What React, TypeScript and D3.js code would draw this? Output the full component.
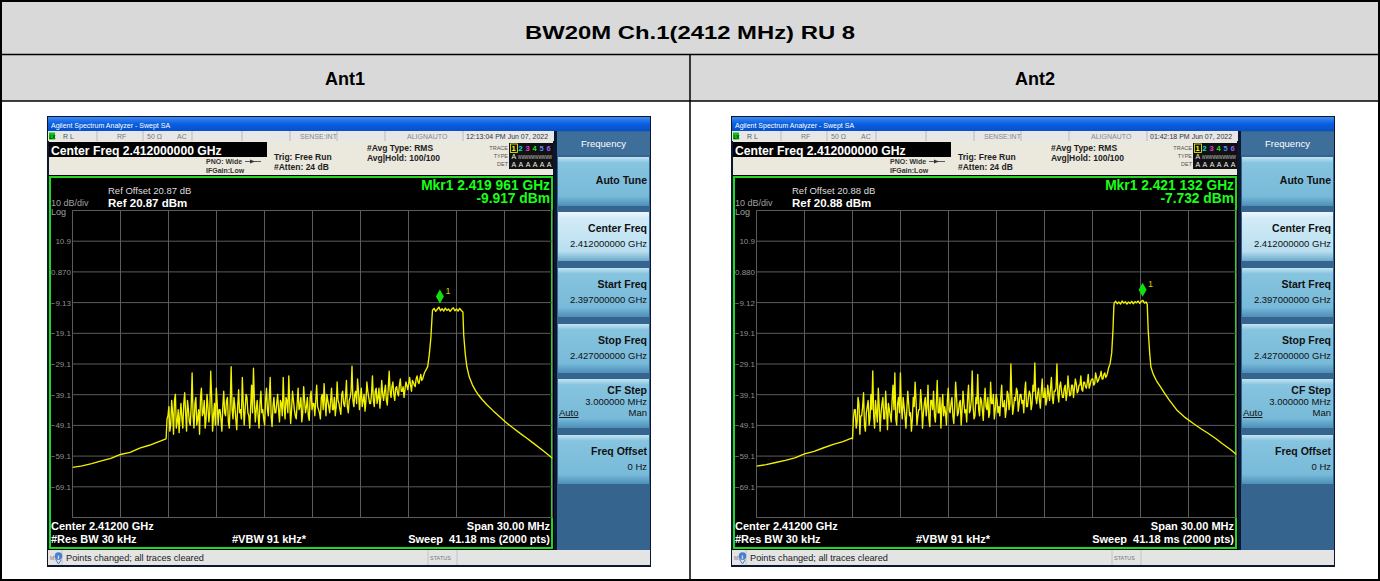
import React from "react";
import * as d3 from "d3";

// ---------------- data ----------------
const tableTitle = "BW20M Ch.1(2412 MHz) RU 8";
const antennaNames = ["Ant1", "Ant2"];
const refLevelsDbm = [20.87, 20.88];
const markerFreqGHz = [2.419961, 2.421132];
const markerLevelDbm = [-9.917, -7.732];
const timeStamps = ["12:13:04 PM Jun 07, 2022", "01:42:18 PM Jun 07, 2022"];
const startFreqGHz = 2.397;
const spanMHz = 30;
const dbPerDiv = 10;
const gridDivs = 10;

const softkeyLabels = ["Auto Tune", "Center Freq", "Start Freq", "Stop Freq", "CF Step", "Freq Offset"];
const softkeyValues = ["", "2.412000000 GHz", "2.397000000 GHz", "2.427000000 GHz", "3.000000 MHz", "0 Hz"];

// trace pieces: [MHz from start, dBm]
const ant1Skirt = [[0, -62.8], [0.6, -62.3], [1.2, -61.6], [1.8, -60.7], [2.4, -59.9], [3, -58.6], [3.6, -57.9], [4.2, -56.5], [4.8, -55.6], [5.4, -54.4], [5.8, -53.6]];
const ant1NoiseRange = [5.85, 22.0];
const ant1Noise = [
  -53.5, -46, -51, -41, -52, -39, -48, -51.5, -42, -50,
  -38.5, -51, -44, -49, -32, -50, -40, -47, -52, -37,
  -45, -50, -39, -48, -31.5, -51, -42, -37, -49, -44,
  -51, -38, -46, -40, -50, -30, -47, -43, -50.5, -37.5,
  -44, -33.5, -49, -39, -45, -50, -36, -30.5, -48, -41,
  -50, -38, -44, -49, -37, -46, -33.5, -49.5, -40, -45,
  -39, -48, -42, -33.5, -47, -41, -33, -48.5, -38, -44,
  -47, -37, -43, -48, -36.5, -45, -40, -47.5, -38, -42,
  -46, -36, -44, -47, -39, -35.5, -46, -41, -45, -37,
  -44, -46, -35, -42, -45.5, -38, -43, -34.5, -45, -40,
  -29.8, -43, -38, -34, -44, -37, -41, -44.5, -35, -40,
  -42, -33, -43, -37, -40, -43.5, -34.5, -41, -36, -42.5,
  -31.5, -40, -35, -41, -36.5, -39.5, -34, -38, -40, -35,
  -37.5, -33.5, -38, -35, -36.5, -33, -35.5, -32.5, -34, -32,
];
// samples lying between the ones above
const ant1NoiseMid = [
  -47, -43, -49, -45, -41, -50, -44, -46, -47, -42,
  -45, -41, -48, -43, -46, -42, -49, -44, -40, -46,
  -41, -47, -43, -45, -40, -46, -49, -42, -44, -47,
  -43, -45, -41, -48, -42, -44, -40, -47, -43, -45,
  -47, -42, -44, -40, -46, -43, -45, -41, -44, -46,
  -42, -45, -47, -41, -44, -40, -46, -43, -45, -42,
  -44, -41, -46, -43, -40, -45, -42, -44, -41, -46,
  -42, -44, -40, -45, -41, -43, -46, -40, -44, -42,
  -41, -43, -45, -40, -44, -42, -39, -43, -41, -44,
  -40, -43, -41, -44, -39, -42, -40, -43, -41, -38,
  -41, -39, -42, -38, -40, -43, -39, -41, -38, -42,
  -39, -41, -38, -42, -37, -40, -39, -38, -41, -37,
  -38, -36.5, -39, -37, -38.5, -36, -38, -36.5, -37.5, -36,
  -35.5, -36, -34.5, -36, -34, -35, -34, -34.5, -33,
];
const ant1Edge = [[22.2, -30], [22.3, -26], [22.4, -20.5], [22.47, -14]];
const ant1Top = [[22.5, -11.6], [22.6, -11.0], [22.7, -12.0], [22.8, -11.3], [22.9, -10.6], [23.0, -11.8], [23.1, -11.1], [23.2, -11.9], [23.3, -10.9], [23.4, -11.7], [23.5, -11.2], [23.6, -12.0], [23.7, -11.3], [23.8, -10.8], [23.9, -11.8], [24.0, -11.2], [24.1, -11.9], [24.2, -11.0], [24.3, -11.7], [24.4, -12.2]];
const ant1Fall = [[24.45, -19.6], [24.55, -26], [24.65, -30.1], [24.8, -33.4], [25.0, -36.0], [25.2, -37.9], [25.4, -39.4], [25.6, -40.7], [25.9, -42.4], [26.3, -44.4], [26.7, -46.3], [27.1, -48.2], [27.6, -50.2], [28, -51.8], [28.4, -53.3], [28.8, -54.9], [29.4, -57.3], [30, -59.8]];

const ant2Skirt = [[0, -62.4], [0.6, -61.9], [1.2, -61.2], [1.8, -60.5], [2.4, -59.7], [3, -58.4], [3.6, -57.6], [4.2, -56.4], [4.8, -55.3], [5.4, -54.4], [5.95, -53.3]];
const ant2NoiseRange = [6.0, 22.0];
const ant2Noise = [
  -53.5, -44, -50, -40, -52, -46, -38.5, -51, -43, -49,
  -39, -31.4, -50, -45, -37, -51, -42, -47, -38, -50.5,
  -44, -48, -36, -32, -49, -40, -32, -47, -43, -50,
  -38, -46, -51, -40, -35, -49, -44, -37.5, -50, -42,
  -46, -36, -49.5, -41, -38, -48, -34.5, -45, -50, -39,
  -43, -49, -37, -45, -40, -48.5, -35, -46, -42, -49,
  -38, -45, -48, -36, -44, -31.4, -47, -40, -32.5, -46,
  -41, -47.5, -37, -44, -46.5, -35, -42, -47, -39, -45,
  -46, -36, -43, -46.5, -38, -44, -29.1, -45.5, -40, -37,
  -44.5, -39, -42, -45, -35, -43, -38, -44, -36, -28.8,
  -42, -37, -43.5, -34, -40, -42.5, -36, -41, -33.5, -42,
  -38, -29.1, -41.5, -35, -40, -37, -41, -33, -39.5, -36,
  -40, -34, -38.5, -36, -33, -38, -35, -37, -32.5, -36,
  -34, -36, -32, -35, -33.5, -31.5, -34, -32, -33, -30.5,
];
const ant2NoiseMid = [
  -47, -44, -48, -42, -46, -43, -49, -45, -41, -47,
  -44, -46, -41, -48, -43, -45, -40, -47, -44, -42,
  -46, -41, -44, -47, -42, -45, -43, -40, -46, -44,
  -42, -45, -47, -43, -41, -46, -44, -42, -45, -40,
  -43, -47, -41, -44, -46, -42, -45, -40, -43, -46,
  -45, -41, -44, -42, -46, -43, -40, -45, -41, -44,
  -42, -44, -40, -45, -41, -43, -46, -42, -44, -40,
  -44, -41, -43, -40, -45, -42, -39, -44, -41, -43,
  -40, -43, -41, -44, -39, -42, -40, -43, -41, -38,
  -42, -39, -41, -38, -43, -40, -39, -42, -38, -40,
  -39, -41, -38, -40, -37, -41, -39, -37, -40, -38,
  -37, -39, -36.5, -38, -40, -36, -38.5, -37, -39, -36,
  -37, -35.5, -38, -36, -37.5, -35, -36.5, -35, -37, -34.5,
  -34, -35.5, -33.5, -34.5, -33, -34, -32.5, -33.5, -32,
];
const ant2Edge = [[22.1, -29], [22.2, -25.5], [22.28, -18], [22.33, -11]];
const ant2Top = [[22.35, -9.3], [22.45, -8.7], [22.55, -9.5], [22.65, -8.9], [22.75, -9.6], [22.85, -8.6], [22.95, -9.3], [23.05, -8.8], [23.15, -9.6], [23.25, -8.9], [23.35, -9.4], [23.45, -8.7], [23.55, -9.5], [23.65, -8.8], [23.75, -9.2], [23.85, -8.6], [23.95, -9.4], [24.05, -8.7], [24.15, -8.4], [24.25, -9.3], [24.35, -8.9], [24.42, -9.6]];
const ant2Fall = [[24.48, -18], [24.58, -26], [24.65, -30.1], [24.8, -32.5], [25.0, -34.6], [25.25, -36.6], [25.5, -38.6], [25.8, -40.9], [26.3, -44.3], [26.8, -46.6], [27.3, -48.5], [27.8, -50.3], [28.2, -51.6], [28.7, -53.4], [29.1, -55], [29.6, -56.9], [30, -58.6]];

const traces = [
  { skirt: ant1Skirt, noise: ant1Noise, mid: ant1NoiseMid, range: ant1NoiseRange, edge: ant1Edge, top: ant1Top, fall: ant1Fall },
  { skirt: ant2Skirt, noise: ant2Noise, mid: ant2NoiseMid, range: ant2NoiseRange, edge: ant2Edge, top: ant2Top, fall: ant2Fall },
];

// ---------------- helpers ----------------
const FONT = "'Liberation Sans', Arial, Helvetica, sans-serif";

function buildTrace(t: any): [number, number][] {
  const n = t.noise.length;
  const step = (t.range[1] - t.range[0]) / (n - 1);
  const noisePts: [number, number][] = [];
  t.noise.forEach((v: number, i: number) => {
    noisePts.push([t.range[0] + step * i, v]);
    if (i < t.mid.length) noisePts.push([t.range[0] + step * (i + 0.5), t.mid[i]]);
  });
  return [...t.skirt, ...noisePts, ...t.edge, ...t.top, ...t.fall];
}

function Analyzer({ idx, dx }: { idx: number; dx: number }) {
  const ref = refLevelsDbm[idx];
  const gx0 = 72.5, gx1 = 552.5, gy0 = 210.5, gy1 = 517.5;
  const x = d3.scaleLinear().domain([0, spanMHz]).range([gx0, gx1]);
  const y = d3.scaleLinear().domain([ref, ref - dbPerDiv * gridDivs]).range([gy0, gy1]);
  const line = d3.line<[number, number]>().x((d) => x(d[0])).y((d) => y(d[1]));
  const pts = buildTrace(traces[idx]);
  const mx = x((markerFreqGHz[idx] - startFreqGHz) * 1000);
  const my = y(markerLevelDbm[idx]);
  const clipId = `clip${idx}`;
  const gradId = `tb${idx}`;
  const btnId = `btn${idx}`;
  const btnHiId = `btnh${idx}`;
  const fmt = d3.format(".3r");
  const btnTops = [157, 212, 268, 324, 379, 435];
  const btnH = 49;
  const statusSeps = [97, 143, 192, 242, 290, 337, 385, 463];
  const traceColors = ["#ffff00", "#00e5e5", "#e040e0", "#30e030", "#5a8cff", "#a060ff"];

  return (
    <g transform={`translate(${dx},0)`} fontFamily={FONT}>
      <defs>
        <clipPath id={clipId}>
          <rect x={gx0} y={gy0 - 30} width={gx1 - gx0} height={gy1 - gy0 + 30} />
        </clipPath>
        <linearGradient id={gradId} x1="0" y1="0" x2="0" y2="1">
          <stop offset="0" stopColor="#3d8bf2" />
          <stop offset="0.5" stopColor="#0a5ee0" />
          <stop offset="1" stopColor="#0650c8" />
        </linearGradient>
        <linearGradient id={btnId} x1="0" y1="0" x2="0" y2="1">
          <stop offset="0" stopColor="#c3e4f2" />
          <stop offset="0.12" stopColor="#86c4df" />
          <stop offset="0.8" stopColor="#78bad9" />
          <stop offset="1" stopColor="#4d8fb8" />
        </linearGradient>
        <linearGradient id={btnHiId} x1="0" y1="0" x2="0" y2="1">
          <stop offset="0" stopColor="#eef8fc" />
          <stop offset="0.12" stopColor="#d2ebf6" />
          <stop offset="0.8" stopColor="#b9dff0" />
          <stop offset="1" stopColor="#6ea9cc" />
        </linearGradient>
      </defs>

      {/* screen frame */}
      <rect x={47} y={116} width={604} height={451} fill="#0b1630" />
      {/* title bar */}
      <rect x={48} y={117} width={602} height={14} fill={`url(#${gradId})`} />
      <text x={51} y={127.5} fontSize={7} fill="#ffffff">Agilent Spectrum Analyzer - Swept SA</text>

      {/* status row */}
      <rect x={48} y={131} width={507} height={10} fill="#e7e7e7" />
      <rect x={49} y={132.5} width={6} height={7} fill="#10c010" />
      <text x={49.5} y={138.5} fontSize={5} fill="#000">LX</text>
      {statusSeps.map((s) => (
        <line key={s} x1={s} x2={s} y1={131} y2={141} stroke="#b0b0b0" strokeWidth={0.8} />
      ))}
      <text x={63} y={139} fontSize={7} fill="#555">R L</text>
      <text x={117} y={139} fontSize={7} fill="#777">RF</text>
      <text x={147} y={139} fontSize={7} fill="#777">50 Ω</text>
      <text x={177} y={139} fontSize={7} fill="#777">AC</text>
      <text x={300} y={139} fontSize={7} fill="#888">SENSE:INT</text>
      <text x={407} y={139} fontSize={7} fill="#888">ALIGNAUTO</text>
      <text x={466} y={139} fontSize={7} fill="#333">{timeStamps[idx]}</text>

      {/* beige info area */}
      <rect x={49} y={141} width={504} height={34} fill="#ebe8dd" />
      <rect x={49} y={142} width={218} height={15} fill="#000" />
      <text x={51} y={154.5} fontSize={12.2} fontWeight="bold" fill="#fff">Center Freq 2.412000000 GHz</text>
      <text x={206} y={164} fontSize={7} fontWeight="bold" fill="#333">PNO: Wide</text>
      <line x1={245} x2={261} y1={161.5} y2={161.5} stroke="#333" strokeWidth={0.8} />
      <path d="M250,159.5 L255,161.5 L250,163.5 Z" fill="#333" />
      <text x={206} y={172.5} fontSize={7} fontWeight="bold" fill="#333">IFGain:Low</text>
      <text x={274} y={160} fontSize={8.5} fontWeight="bold" fill="#222">Trig: Free Run</text>
      <text x={274} y={170} fontSize={8.5} fontWeight="bold" fill="#222">#Atten: 24 dB</text>
      <text x={367} y={151} fontSize={8.5} fontWeight="bold" fill="#222">#Avg Type: RMS</text>
      <text x={367} y={161} fontSize={8.5} fontWeight="bold" fill="#222">Avg|Hold: 100/100</text>
      <text x={508} y={150} fontSize={5.5} fill="#555" textAnchor="end">TRACE</text>
      <text x={508} y={158} fontSize={5.5} fill="#555" textAnchor="end">TYPE</text>
      <text x={508} y={166} fontSize={5.5} fill="#555" textAnchor="end">DET</text>
      <rect x={509} y={143} width={44} height={26} fill="#111" />
      {traceColors.map((c, i) => (
        <text key={i} x={511.5 + i * 7} y={151} fontSize={7.5} fontWeight="bold" fill={c}>{i + 1}</text>
      ))}
      <rect x={510.5} y={144} width={7} height={8.5} fill="none" stroke="#ffff00" strokeWidth={0.8} />
      <text x={511.5} y={159} fontSize={7} fill="#eee">A</text>
      <text x={518} y={159} fontSize={6} fill="#ccc" textLength={34} lengthAdjust="spacingAndGlyphs">WWWWWWWWWW</text>
      <text x={511.5} y={167} fontSize={7} fill="#eee" textLength={40} lengthAdjust="spacing">A A A A A A</text>

      {/* plot area */}
      <rect x={49} y={175} width={505} height={375} fill="#000" />
      <rect x={50} y={177} width={502} height={371} fill="none" stroke="#1fd81f" strokeWidth={2} />
      <text x={108} y={194} fontSize={9.5} fill="#dddddd">Ref Offset {refLevelsDbm[idx].toFixed(2)} dB</text>
      <text x={51} y={206} fontSize={9} fill="#a0a0a0">10 dB/div</text>
      <text x={51} y={215} fontSize={9} fill="#a0a0a0">Log</text>
      <text x={108} y={207} fontSize={11.5} fontWeight="bold" fill="#ffffff">Ref {ref.toFixed(2)} dBm</text>
      <text x={550} y={190} fontSize={13.8} fontWeight="bold" fill="#19ff19" textAnchor="end">
        Mkr1 {markerFreqGHz[idx].toFixed(6).replace(/(\.\d{3})(\d{3})/, "$1 $2")} GHz
      </text>
      <text x={550} y={203} fontSize={13.8} fontWeight="bold" fill="#19ff19" textAnchor="end">
        {markerLevelDbm[idx].toFixed(3)} dBm
      </text>

      {/* grid */}
      {d3.range(gridDivs + 1).map((i) => (
        <line key={"v" + i} x1={x((spanMHz / gridDivs) * i)} x2={x((spanMHz / gridDivs) * i)} y1={gy0} y2={gy1} stroke="#5c5c5c" strokeWidth={1} />
      ))}
      {d3.range(gridDivs + 1).map((i) => (
        <line key={"h" + i} x1={gx0} x2={gx1} y1={y(ref - dbPerDiv * i)} y2={y(ref - dbPerDiv * i)} stroke="#5c5c5c" strokeWidth={1} />
      ))}
      {d3.range(1, gridDivs).map((i) => (
        <text key={"yl" + i} x={71} y={y(ref - dbPerDiv * i) + 3} fontSize={8} fill="#8f8f8f" textAnchor="end">
          {fmt(ref - dbPerDiv * i)}
        </text>
      ))}

      {/* trace */}
      <g clipPath={`url(#${clipId})`}>
        <path d={line(pts) || ""} fill="none" stroke="#f2f200" strokeWidth={1.35} strokeLinejoin="round" />
      </g>

      {/* marker */}
      <path d={`M${mx},${my - 1.5} L${mx + 4},${my - 8.5} L${mx},${my - 15.5} L${mx - 4},${my - 8.5} Z`} fill="#10e010" />
      <text x={mx + 5.5} y={my - 11} fontSize={9} fill="#d0d000">1</text>

      {/* bottom annotations */}
      <text x={51} y={530} fontSize={11} fontWeight="bold" fill="#fff">Center 2.41200 GHz</text>
      <text x={51} y={543} fontSize={11} fontWeight="bold" fill="#fff">#Res BW 30 kHz</text>
      <text x={232} y={543} fontSize={11} fontWeight="bold" fill="#fff">#VBW 91 kHz*</text>
      <text x={550} y={530} fontSize={11} fontWeight="bold" fill="#fff" textAnchor="end">Span 30.00 MHz</text>
      <text x={550} y={543} fontSize={11} fontWeight="bold" fill="#fff" textAnchor="end" xmlSpace="preserve">Sweep  41.18 ms (2000 pts)</text>

      {/* softkey panel */}
      <rect x={554} y={131} width={3} height={419} fill="#0b1630" />
      <rect x={557} y={131} width={93} height={419} fill="#35658f" />
      <rect x={557} y={132} width={93} height={23} fill="#3e6f9a" />
      <text x={603.5} y={147} fontSize={9.5} fill="#ffffff" textAnchor="middle">Frequency</text>
      {btnTops.map((t, i) => (
        <g key={"b" + i}>
          <rect x={558} y={t} width={91} height={btnH} fill={`url(#${i === 1 ? btnHiId : btnId})`} />
          {softkeyValues[i] === "" ? (
            <text x={647} y={t + 27} fontSize={10.5} fontWeight="bold" fill="#111" textAnchor="end">{softkeyLabels[i]}</text>
          ) : i === 4 ? (
            <g>
              <text x={647} y={t + 15} fontSize={10.5} fontWeight="bold" fill="#111" textAnchor="end">{softkeyLabels[i]}</text>
              <text x={647} y={t + 26} fontSize={9.5} fill="#111" textAnchor="end">{softkeyValues[i]}</text>
              <text x={559} y={t + 37} fontSize={9.5} fill="#111" textDecoration="underline">Auto</text>
              <text x={647} y={t + 37} fontSize={9.5} fill="#111" textAnchor="end">Man</text>
            </g>
          ) : (
            <g>
              <text x={647} y={t + 20} fontSize={10.5} fontWeight="bold" fill="#111" textAnchor="end">{softkeyLabels[i]}</text>
              <text x={647} y={t + 35} fontSize={9.5} fill="#111" textAnchor="end">{softkeyValues[i]}</text>
            </g>
          )}
        </g>
      ))}

      {/* message bar */}
      <rect x={48} y={550} width={602} height={15} fill="#e4e4e4" />
      <text x={50} y={560} fontSize={5} fill="#777">MSG</text>
      <line x1={62} x2={62} y1={550} y2={565} stroke="#bbb" strokeWidth={0.8} />
      <circle cx={58.5} cy={556} r={3.8} fill="#4a7fd0" />
      <text x={57.5} y={558.5} fontSize={6} fill="#fff" fontWeight="bold">i</text>
      <path d="M56,560 L58.5,564 L61,560" fill="none" stroke="#4a7fd0" strokeWidth={1} />
      <text x={66} y={561} fontSize={9.2} fill="#222">Points changed; all traces cleared</text>
      <line x1={428} x2={428} y1={550} y2={565} stroke="#bbb" strokeWidth={0.8} />
      <line x1={457} x2={457} y1={550} y2={565} stroke="#bbb" strokeWidth={0.8} />
      <text x={430} y={560} fontSize={5.5} fill="#777">STATUS</text>
    </g>
  );
}

export default function App() {
  return (
    <div>
      <svg width={1380} height={581} style={{ position: "absolute", left: 0, top: 0, background: "#fff" }} fontFamily={FONT}>
        {/* table */}
        <rect x={1} y={1} width={1378} height={53} fill="#d9d9d9" />
        <rect x={1} y={55} width={1378} height={46} fill="#d9d9d9" />
        <text x={690} y={39} fontSize={18} fontWeight="bold" textAnchor="middle" fill="#000" textLength={330} lengthAdjust="spacingAndGlyphs">{tableTitle}</text>
        {antennaNames.map((n, i) => (
          <text key={n} x={345 + i * 690} y={85} fontSize={18} fontWeight="bold" textAnchor="middle" fill="#000">{n}</text>
        ))}
        <line x1={1} x2={1379} y1={54.5} y2={54.5} stroke="#000" strokeWidth={1.5} />
        <line x1={1} x2={1379} y1={101} y2={101} stroke="#000" strokeWidth={1.5} />
        <line x1={690} x2={690} y1={54.5} y2={580} stroke="#000" strokeWidth={1.5} />
        <rect x={1} y={1} width={1378} height={579} fill="none" stroke="#000" strokeWidth={2} />

        <Analyzer idx={0} dx={0} />
        <Analyzer idx={1} dx={684} />
      </svg>
    </div>
  );
}
